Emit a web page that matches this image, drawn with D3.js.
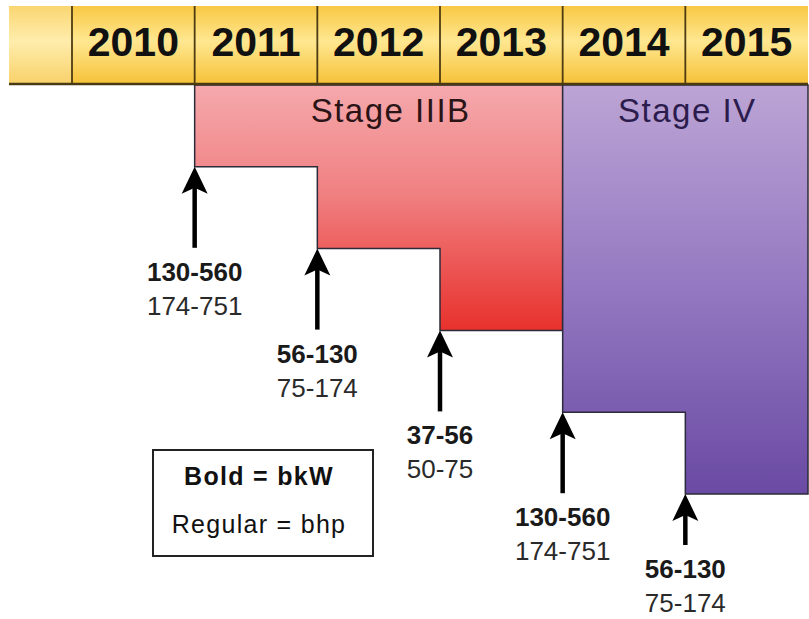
<!DOCTYPE html>
<html>
<head>
<meta charset="utf-8">
<script src="https://cdn.jsdelivr.net/npm/d3@7"></script>
<style>
  body { margin: 0; background: #fff; }
  svg { display: block; font-family: "Liberation Sans", Arial, Helvetica, sans-serif; }
</style>
</head>
<body>
<div id="chart"></div>
<script>
// data
var years = [2010, 2011, 2012, 2013, 2014, 2015];
var stageNames = ["Stage IIIB", "Stage IV"];
var stageStart = [2011, 2014];
var stageEnd = [2014, 2016];
var stepYears = [2011, 2012, 2013, 2014, 2015];
var stepLevels = [1, 2, 3, 4, 5];
var kwRanges = ["130-560", "56-130", "37-56", "130-560", "56-130"];
var hpRanges = ["174-751", "75-174", "50-75", "174-751", "75-174"];
var legendLines = ["Bold = bkW", "Regular = bhp"];

var width = 809,
    height = 619;

var svg = d3.select("#chart")
            .append("svg")
            .attr("width", width)
            .attr("height", height);

// scales
var x = d3.scaleLinear().domain([2010, 2016]).range([72, 808]);
var y = d3.scaleLinear().domain([0, 5]).range([85, 494]);

// gradients
var defs = svg.append("defs");
function addGradient(id, stops) {
    var g = defs.append("linearGradient")
                .attr("id", id)
                .attr("x1", 0).attr("y1", 0)
                .attr("x2", 0).attr("y2", 1);
    stops.forEach(function(s) {
        g.append("stop").attr("offset", s[0]).attr("stop-color", s[1]);
    });
}
addGradient("gHeader", [[0, "#f8c843"], [0.45, "#ffe791"], [1, "#f6c238"]]);
addGradient("gStage0", [[0, "#f5a9ad"], [0.45, "#f07f80"], [1, "#e8312c"]]);
addGradient("gStage1", [[0, "#bca4d5"], [0.5, "#9478c1"], [1, "#6a4aa3"]]);

// stage areas (stepped bottom)
var stages = stageNames.map(function(name, i) {
    var cols = stepYears.filter(function(yr) { return yr >= stageStart[i] && yr < stageEnd[i]; });
    return {name: name, i: i, cols: cols};
});

stages.forEach(function(st) {
    var pts = [[x(stageStart[st.i]), y(0)], [x(stageEnd[st.i]), y(0)]];
    var rev = st.cols.slice().reverse();
    rev.forEach(function(yr) {
        var lvl = stepLevels[stepYears.indexOf(yr)];
        pts.push([x(yr + 1), y(lvl)]);
        pts.push([x(yr), y(lvl)]);
    });
    svg.append("path")
       .attr("d", d3.line()(pts) + "Z")
       .attr("fill", "url(#gStage" + st.i + ")")
       .attr("stroke", "#2b2b3a")
       .attr("stroke-width", 1.5);

    svg.append("text")
       .attr("x", (x(stageStart[st.i]) + x(stageEnd[st.i])) / 2)
       .attr("dx", st.i == 0 ? 12 : 2)
       .attr("y", 122)
       .attr("text-anchor", "middle")
       .style("font-size", "33px")
       .style("letter-spacing", "1.5px")
       .style("fill", st.i == 0 ? "#2a1416" : "#2b1c4d")
       .text(st.name);
});

// header
var header = svg.append("g");
header.append("rect")
      .attr("x", 9).attr("y", 6)
      .attr("width", x(2016) - 9).attr("height", y(0) - 7)
      .attr("fill", "url(#gHeader)");
header.append("rect")
      .attr("x", 9).attr("y", 6)
      .attr("width", x(2010) - 9).attr("height", y(0) - 7)
      .attr("fill", "#fff")
      .attr("opacity", 0.25);
header.selectAll(".div")
      .data(years)
      .enter().append("line")
      .attr("x1", function(d) { return x(d); })
      .attr("x2", function(d) { return x(d); })
      .attr("y1", 6).attr("y2", y(0))
      .attr("stroke", "#4d3b12")
      .attr("stroke-width", 1.8);
header.append("line")
      .attr("x1", 9).attr("x2", x(2016))
      .attr("y1", y(0) - 1).attr("y2", y(0) - 1)
      .attr("stroke", "#4a3a14")
      .attr("stroke-width", 2.5);
header.selectAll(".yr")
      .data(years)
      .enter().append("text")
      .attr("x", function(d) { return x(d + 0.5); })
      .attr("y", 56)
      .attr("text-anchor", "middle")
      .style("font-size", "41px")
      .style("font-weight", "bold")
      .style("fill", "#111")
      .text(function(d) { return d; });

// arrows + labels
stepYears.forEach(function(yr, i) {
    var ax = x(yr),
        tip = y(stepLevels[i]),
        len = Math.min(81, height - 74 - tip),
        tail = tip + len;
    var g = svg.append("g");
    g.append("line")
     .attr("x1", ax).attr("x2", ax)
     .attr("y1", tip + 20).attr("y2", tail)
     .attr("stroke", "#000")
     .attr("stroke-width", 4.5);
    g.append("path")
     .attr("d", d3.line()([[ax, tip], [ax + 13, tip + 27], [ax, tip + 21], [ax - 13, tip + 27]]) + "Z")
     .attr("fill", "#000");
    g.append("text")
     .attr("x", ax).attr("y", tail + 33)
     .attr("text-anchor", "middle")
     .style("font-size", "26px")
     .style("font-weight", "bold")
     .style("fill", "#1a1a1a")
     .text(kwRanges[i]);
    g.append("text")
     .attr("x", ax).attr("y", tail + 67)
     .attr("text-anchor", "middle")
     .style("font-size", "26px")
     .style("fill", "#2a2a2a")
     .text(hpRanges[i]);
});

// legend
var legend = svg.append("g");
legend.append("rect")
      .attr("x", 153).attr("y", 450)
      .attr("width", 220).attr("height", 106)
      .attr("fill", "#fff")
      .attr("stroke", "#222")
      .attr("stroke-width", 2);
legend.selectAll("text")
      .data(legendLines)
      .enter().append("text")
      .attr("x", 259)
      .attr("y", function(d, i) { return 485 + i * 48; })
      .attr("text-anchor", "middle")
      .style("font-size", "25px")
      .style("letter-spacing", "1.3px")
      .style("font-weight", function(d, i) { return i == 0 ? "bold" : "normal"; })
      .style("fill", "#111")
      .text(function(d) { return d; });
</script>
</body>
</html>
